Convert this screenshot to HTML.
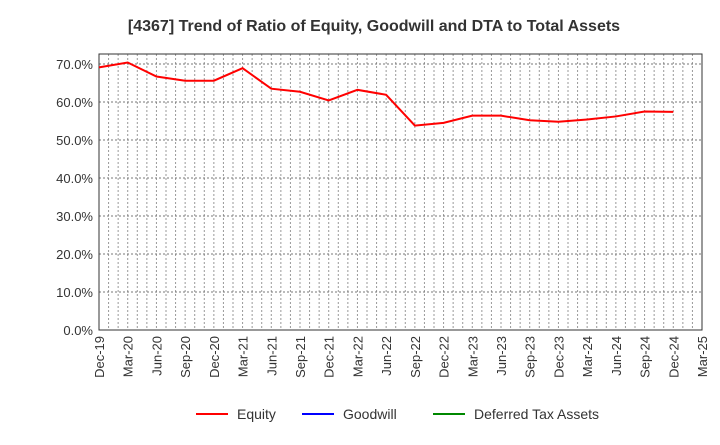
<!DOCTYPE html>
<html><head><meta charset="utf-8"><style>
body{margin:0;background:#fff;font-family:"Liberation Sans",Arial,sans-serif;}
svg text{font-family:"Liberation Sans",Arial,sans-serif;}
</style></head><body>
<svg id="chart" width="720" height="440" xmlns="http://www.w3.org/2000/svg">
<text x="374" y="31" text-anchor="middle" font-size="16" font-weight="bold" fill="#333">[4367]  Trend of Ratio of Equity, Goodwill and DTA to Total Assets</text>
<g id="grid"></g>
<g id="axes"></g>
<g id="series"></g>
<g>
<g><line x1="196" y1="414" x2="228" y2="414" stroke="#f00" stroke-width="2"/><text x="237" y="419" font-size="14" fill="#333">Equity</text></g>
<g><line x1="302" y1="414" x2="334" y2="414" stroke="#00f" stroke-width="2"/><text x="343" y="419" font-size="14" fill="#333">Goodwill</text></g>
<g><line x1="433" y1="414" x2="465" y2="414" stroke="#080" stroke-width="2"/><text x="474" y="419" font-size="14" fill="#333">Deferred Tax Assets</text></g>
</g>
</svg>
<script>
const categories=["Dec-19","Mar-20","Jun-20","Sep-20","Dec-20","Mar-21","Jun-21","Sep-21","Dec-21","Mar-22","Jun-22","Sep-22","Dec-22","Mar-23","Jun-23","Sep-23","Dec-23","Mar-24","Jun-24","Sep-24","Dec-24","Mar-25"];
const equity=[69.1,70.4,66.7,65.6,65.6,68.9,63.5,62.7,60.4,63.2,61.9,53.8,54.5,56.4,56.4,55.2,54.8,55.4,56.2,57.5,57.4];
const yTicks=[0,10,20,30,40,50,60,70];
const yTickLabels=["0.0%","10.0%","20.0%","30.0%","40.0%","50.0%","60.0%","70.0%"];
const L=99,R=702,T=54,B=330;
const NS="http://www.w3.org/2000/svg";
const x=i=>L+(R-L)*i/(categories.length-1);
const y=v=>B-(B-64)*v/70;
function mk(tag,attrs,parent){const e=document.createElementNS(NS,tag);for(const k in attrs)e.setAttribute(k,attrs[k]);parent.appendChild(e);return e;}
const grid=document.getElementById('grid'),axes=document.getElementById('axes'),series=document.getElementById('series');
const nm=(categories.length-1)*3;
for(let m=1;m<nm;m++){const xx=L+(R-L)*m/nm;
const ln=mk('line',{x1:xx,y1:T,x2:xx,y2:B,stroke:'#999','stroke-dasharray':'2,2','stroke-width':1},grid);

}
yTicks.forEach((v,i)=>{
if(v>0){const g=mk('line',{x1:L,y1:y(v),x2:R,y2:y(v),stroke:'#777','stroke-dasharray':'2,2','stroke-width':1},grid);

}
const t=mk('text',{x:L-6,y:y(v)+5,'text-anchor':'end','font-size':13,fill:'#333'},axes);t.textContent=yTickLabels[i];


});
const frame=mk('rect',{x:L,y:T,width:R-L,height:B-T,fill:'none',stroke:'#333','stroke-width':1},axes);


categories.forEach((c,i)=>{
const t=mk('text',{x:0,y:0,'text-anchor':'end','font-size':13,fill:'#333',transform:`translate(${x(i)+5},${B+6}) rotate(-90)`},axes);t.textContent=c;


});
const p=mk('polyline',{points:equity.map((v,i)=>x(i)+','+y(v)).join(' '),fill:'none',stroke:'#f00','stroke-width':2},series);


</script>
</body></html>
